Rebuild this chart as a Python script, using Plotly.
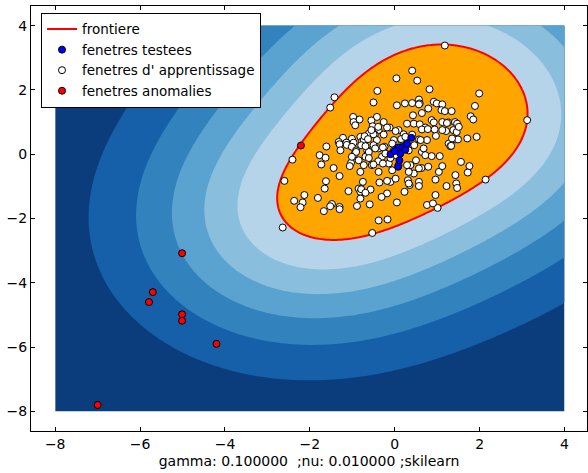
import numpy as np
import plotly.graph_objects as go

# ---------------- data ----------------
train_x = [-1.52, -0.98, -0.83, -0.97, -0.93, -1.22, -1.01, -0.81, -1.32, -1.14, -0.97, -0.77,
           -1.42, 1.18, 3.12, 2.14, 1.01, -0.53, -2.64, -2.60, -2.41,
           0.41, 0.04, 0.53, 0.82, -0.41, -0.50, 0.05, 0.24, 0.41, 0.57, 0.59, 0.64, 0.79, 0.92, 0.99,
           1.12, 1.10, 1.18, 1.34, 0.43, -0.42, -0.55, -0.26, -0.12, 0.29, 0.45, 0.59, 0.72, 0.87,
           0.92, 1.12, 1.26, 1.42, -0.52, -0.38, 0.09, 0.21, 0.41, 0.64, 0.78, 0.97, 1.21, 1.38,
           1.43, -0.61, -0.47, -0.26, -0.02, 0.16, 0.57, 0.76, -0.73, -0.42, 1.27,
           1.99, 1.89, 1.79, 1.85, 1.47, 1.46, 1.49, 1.71, 1.93,
           -1.61, -1.30, -1.28, -1.13, -1.01, -0.91, -1.77, -1.63, -1.73, -1.44, -0.95, -1.03, -1.06,
           -0.81, -1.30, -1.62, -1.65, -1.09, -0.85, -0.81, -0.75, -2.13, -2.37, -2.17, -1.81, -2.22,
           -1.67, -1.48, -1.52, -1.30, -1.30, -0.89, -0.81,
           -0.79, -0.65, -0.50, -0.38, -0.24, -0.30, -0.69, -0.54, -0.73, -0.38, -0.14, -0.06, 0.09,
           0.02, 0.33, 0.64, 0.87, 1.06, 1.31, 0.50, 0.37, 0.63, 0.79, 0.45, 1.04, 1.12, 1.43, 1.22,
           0.96, 0.57, 0.31, 0.35, 0.23, -0.10, -0.36, -0.18, -0.31, -0.57, -0.59, 0.05, 0.76, 0.90,
           0.96, -0.38, -0.17,
           1.56, 1.76, 1.72, 1.45, 1.47,
           -0.71, -0.63, -0.50, -0.55, -0.39, -0.18, 0.02, 0.15, 0.25, -0.06, -0.28, -0.46, -0.61,
           -0.69, -0.91, -1.01, -0.85, -0.61, -0.39, -0.50, -0.28, -0.10, -0.02, -0.22, 0.46, 0.61,
           0.68, 0.72, 0.29, 0.33, 0.57, 0.94, 1.12, 1.23, 1.33, 0.57, 0.33, 0.02, -0.18, -0.79,
           -0.69, 0.57, 1.51, 1.35]
train_y = [1.45, 1.16, 1.08, 1.00, 0.90, 0.51, 0.48, 0.54, 0.38, 0.36, 0.36, 0.40,
           1.77, 3.38, 1.06, -0.79, -1.67, -2.45, -2.28, -0.83, -0.17,
           2.60, 2.36, 2.29, 2.02, 1.97, 1.61, 1.52, 1.58, 1.59, 1.70, 1.58, 1.28, 1.42, 1.63, 1.58,
           1.55, 1.37, 1.34, 1.34, 1.21, 1.16, 1.05, 1.00, 0.83, 0.95, 0.95, 0.93, 0.83, 1.06,
           0.99, 1.00, 0.99, 1.00, 0.87, 0.75, 0.75, 0.62, 0.61, 0.77, 0.78, 0.57, 0.72, 0.75,
           0.46, 0.64, 0.61, 0.61, 0.44, 0.44, 0.46, 0.44, 0.44, 0.44, 0.33,
           1.89, 1.50, 1.18, 1.08, 0.95, 0.69, 0.46, 0.49, 0.54,
           0.24, 0.31, 0.12, 0.29, 0.23, 0.12, -0.03, -0.11, -0.32, -0.43, 0.00, -0.27, -0.37,
           -0.55, -0.68, -0.84, -1.07, -1.15, -1.07, -1.17, -0.86, -1.27, -1.45, -1.50, -1.36, -1.65,
           -1.77, -1.55, -1.62, -1.64, -1.71, -1.61, -1.38,
           0.28, 0.12, 0.28, 0.18, 0.23, -0.08, -0.08, -0.34, -0.34, -0.55, -0.29, -0.50, -0.34,
           -0.03, 0.12, 0.07, -0.06, -0.06, 0.25, -0.19, -0.34, -0.43, -0.39, -0.60, -0.55, -0.37,
           -0.65, -0.99, -0.79, -0.86, -0.81, -0.96, -1.17, -0.86, -0.88, -1.22, -1.33, -1.10, -1.56,
           -1.50, -1.58, -1.53, -1.27, -2.06, -2.03,
           -0.24, -0.37, -0.57, -0.91, -1.05,
           0.56, 0.47, 0.62, 0.75, 0.85, 0.83, 0.72, 0.47, 0.54, 0.33, 0.21, 0.18, 0.07,
           0.25, 0.07, -0.08, -0.19, -0.12, -0.22, -0.32, -0.29, -0.12, 0.12, 0.02, 0.28, 0.44,
           0.18, -0.03, -0.34, -0.55, -0.44, 0.77, 0.75, 0.97, 0.26, -0.99, -0.91, -0.76, -0.83, -1.09,
           -1.20, 1.55, 0.85, 0.49]

test_x = [-0.10, 0.08, 0.19, 0.29, 0.13, 0.08, 0.39, 0.00, 0.11, 0.25]
test_y = [0.00, 0.21, 0.21, 0.32, 0.02, -0.39, 0.51, 0.10, -0.19, 0.14]

anom_x = [-5.01, -5.70, -5.79, -5.01, -5.01, -4.20, -7.00, -2.21]
anom_y = [-3.08, -4.29, -4.60, -4.98, -5.18, -5.90, -7.80, 0.27]

# support vectors (points lying on the frontier) of the one-class SVM
sv_x = [1.18, 3.12, 2.14, 1.01, -0.53, -2.64, -2.60, -2.41, -2.21, -1.42]
sv_y = [3.38, 1.06, -0.79, -1.67, -2.45, -2.28, -0.83, -0.17, 0.27, 1.77]
field_gamma = 0.07   # kernel width used to draw the decision field

x_ticks = [-8, -6, -4, -2, 0, 2, 4]
y_ticks = [-8, -6, -4, -2, 0, 2, 4]
title = "gamma: 0.100000  ;nu: 0.010000 ;skilearn"

band_colors = ['#0b3d7d', '#1560a9', '#3282bd', '#5aa2cf', '#89bedc', '#b6d4e9', '#ffa500']

# ---------------- decision function ----------------
g = np.linspace(-8, 4, 300)
XX, YY = np.meshgrid(g, g)
sv = np.column_stack([sv_x, sv_y])
D = ((sv[:, None, :] - sv[None, :, :]) ** 2).sum(-1)
K = np.exp(-field_gamma * D)
b = np.ones(len(sv))
alpha = np.ones(len(sv)) / len(sv)
for _ in range(4000):
    alpha *= (K.T @ b) / (K.T @ (K @ alpha) + 1e-12)
S = np.zeros_like(XX)
for a, sx, sy in zip(alpha, sv_x, sv_y):
    S += a * np.exp(-field_gamma * ((XX - sx) ** 2 + (YY - sy) ** 2))
rho = (K @ alpha).mean()
Z = S - rho
zmin = Z.min()
step = -zmin / 6.0

cscale = [[k / 6.0, c] for k, c in enumerate(band_colors)]

fig = go.Figure()
fig.add_trace(go.Contour(
    x=g, y=g, z=Z, autocontour=False,
    contours=dict(start=zmin + step, end=0.0, size=step, coloring='fill', showlines=False),
    colorscale=cscale, showscale=False, line=dict(width=0), hoverinfo='skip', showlegend=False))
fig.add_trace(go.Contour(
    x=g, y=g, z=Z, autocontour=False,
    contours=dict(start=0.0, end=0.0, size=1.0, coloring='none'),
    line=dict(color='red', width=2), showscale=False, hoverinfo='skip', showlegend=False))

fig.add_trace(go.Scatter(x=[None], y=[None], mode='lines', name='frontiere',
                         line=dict(color='red', width=2), legendrank=1))
mk = dict(size=7, line=dict(color='black', width=1))
fig.add_trace(go.Scatter(x=train_x, y=train_y, mode='markers', name="fenetres d' apprentissage",
                         marker=dict(color='white', **mk), legendrank=3))
fig.add_trace(go.Scatter(x=test_x, y=test_y, mode='markers', name='fenetres testees',
                         marker=dict(color='blue', **mk), legendrank=2))
fig.add_trace(go.Scatter(x=anom_x, y=anom_y, mode='markers', name='fenetres anomalies',
                         marker=dict(color='red', **mk), legendrank=4))

axis_common = dict(showgrid=False, zeroline=False, showline=True, linecolor='black', linewidth=1,
                   mirror='allticks', ticks='inside', ticklen=4, tickcolor='black',
                   tickfont=dict(size=14, color='black', family='DejaVu Sans'))
fig.update_layout(
    width=588, height=473,
    margin=dict(l=31, r=1, t=6, b=42, pad=0),
    plot_bgcolor='white', paper_bgcolor='white',
    font=dict(family='DejaVu Sans', color='black'),
    xaxis=dict(range=[-8.57, 4.53], tickvals=x_ticks, title=dict(text=title, font=dict(size=14), standoff=5),
               **axis_common),
    yaxis=dict(range=[-8.61, 4.61], tickvals=y_ticks, **axis_common),
    legend=dict(x=0.018, y=0.984, xanchor='left', yanchor='top', bgcolor='white',
                bordercolor='black', borderwidth=1, font=dict(size=13.5, color='black'),
                tracegroupgap=0),
    showlegend=True,
)
fig.write_html("out.html")
